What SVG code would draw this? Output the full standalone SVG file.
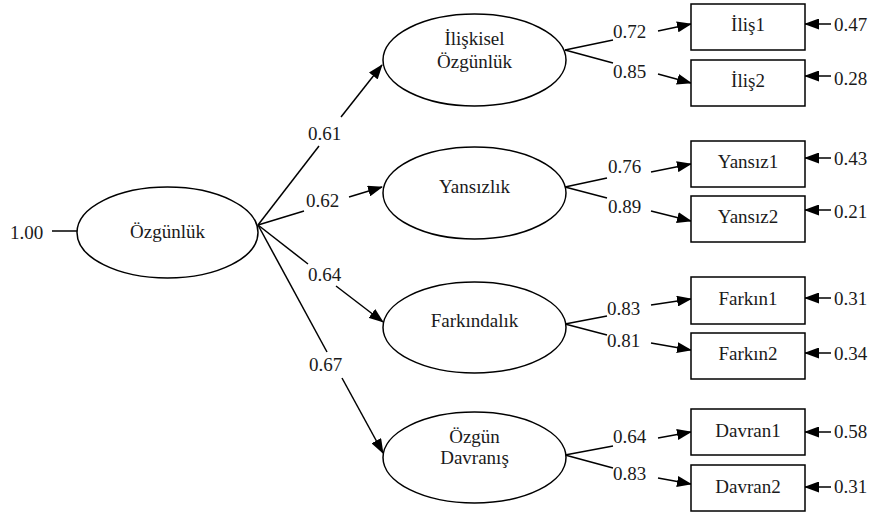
<svg xmlns="http://www.w3.org/2000/svg" width="869" height="516" viewBox="0 0 869 516" font-family="Liberation Serif, Times New Roman, serif" font-size="19">
<style>
text{fill:#1a1a1a}
.c{text-anchor:middle}
.n{fill:#fff;stroke:#000;stroke-width:1.5}
.l{stroke:#000;stroke-width:1.5;fill:none}
.a{stroke:#000;stroke-width:1.5;fill:none;marker-end:url(#ah)}
</style>
<defs>
<marker id="ah" markerWidth="15" markerHeight="11" refX="14" refY="5.5" orient="auto" markerUnits="userSpaceOnUse"><path d="M0,0 L15,5.5 L0,11 z" fill="#000"/></marker>
</defs>
<rect width="869" height="516" fill="#fff"/>
<g id="connectors">
<line class="l" x1="52" y1="231" x2="77" y2="231"/>
<text x="10" y="239">1.00</text>
<line class="l" x1="258" y1="225" x2="319" y2="146"/><line class="a" x1="341" y1="117" x2="382" y2="65"/><text x="308" y="140">0.61</text>
<line class="l" x1="258" y1="225" x2="304" y2="211"/><line class="a" x1="349" y1="197" x2="382" y2="187"/><text x="306" y="207">0.62</text>
<line class="l" x1="258" y1="225" x2="308" y2="264"/><line class="a" x1="336" y1="286" x2="383" y2="322"/><text x="308" y="281">0.64</text>
<line class="l" x1="258" y1="225" x2="327" y2="352"/><line class="a" x1="342" y1="378" x2="383" y2="453"/><text x="309" y="371">0.67</text>
<line class="l" x1="565" y1="50" x2="613" y2="40"/><line class="a" x1="658" y1="31" x2="691" y2="24"/><text x="613" y="38">0.72</text>
<line class="l" x1="565" y1="50" x2="613" y2="63"/><line class="a" x1="658" y1="74" x2="691" y2="83"/><text x="613" y="78">0.85</text>
<line class="l" x1="565" y1="187" x2="607" y2="178"/><line class="a" x1="651" y1="172" x2="691" y2="164"/><text x="608" y="173">0.76</text>
<line class="l" x1="565" y1="187" x2="607" y2="198"/><line class="a" x1="651" y1="211" x2="691" y2="221"/><text x="608" y="213">0.89</text>
<line class="l" x1="565" y1="324" x2="607" y2="316"/><line class="a" x1="651" y1="305" x2="691" y2="299"/><text x="607" y="315">0.83</text>
<line class="l" x1="565" y1="324" x2="607" y2="335"/><line class="a" x1="651" y1="343" x2="691" y2="350"/><text x="607" y="347">0.81</text>
<line class="l" x1="565" y1="455" x2="613" y2="446"/><line class="a" x1="658" y1="438" x2="691" y2="432"/><text x="613" y="443">0.64</text>
<line class="l" x1="565" y1="455" x2="613" y2="468"/><line class="a" x1="658" y1="478" x2="691" y2="484"/><text x="613" y="480">0.83</text>
<line class="a" x1="831" y1="24" x2="805" y2="24"/><text x="834" y="31">0.47</text>
<line class="a" x1="831" y1="76" x2="805" y2="76"/><text x="834" y="85">0.28</text>
<line class="a" x1="831" y1="158" x2="805" y2="158"/><text x="834" y="165">0.43</text>
<line class="a" x1="831" y1="210" x2="805" y2="210"/><text x="834" y="218">0.21</text>
<line class="a" x1="831" y1="298" x2="805" y2="298"/><text x="834" y="305">0.31</text>
<line class="a" x1="831" y1="353" x2="805" y2="353"/><text x="834" y="360">0.34</text>
<line class="a" x1="831" y1="432" x2="805" y2="432"/><text x="834" y="438">0.58</text>
<line class="a" x1="831" y1="487" x2="805" y2="487"/><text x="834" y="493">0.31</text>
</g>
<g id="ozgunluk"><ellipse class="n" cx="167.5" cy="232.5" rx="90.5" ry="45.5"/><text class="c" x="167.5" y="238">Özgünlük</text></g>
<g id="iliskisel"><ellipse class="n" cx="474.5" cy="60" rx="91.5" ry="46"/><text class="c" x="474.5" y="45">İlişkisel</text><text class="c" x="474.5" y="68">Özgünlük</text></g>
<g id="yansizlik"><ellipse class="n" cx="474.5" cy="193" rx="91.5" ry="46"/><text class="c" x="474.5" y="193">Yansızlık</text></g>
<g id="farkindalik"><ellipse class="n" cx="474.5" cy="327.5" rx="91.5" ry="45.5"/><text class="c" x="474.5" y="327">Farkındalık</text></g>
<g id="ozgun-davranis"><ellipse class="n" cx="474.5" cy="457.5" rx="91.5" ry="45.5"/><text class="c" x="474.5" y="443">Özgün</text><text class="c" x="474.5" y="464">Davranış</text></g>
<g id="ilis1"><rect class="n" x="691" y="4" width="114" height="46"/><text class="c" x="748" y="31">İliş1</text></g>
<g id="ilis2"><rect class="n" x="691" y="60" width="114" height="46"/><text class="c" x="748" y="87">İliş2</text></g>
<g id="yansiz1"><rect class="n" x="691" y="141" width="114" height="46"/><text class="c" x="748" y="168">Yansız1</text></g>
<g id="yansiz2"><rect class="n" x="691" y="196" width="114" height="46"/><text class="c" x="748" y="223">Yansız2</text></g>
<g id="farkin1"><rect class="n" x="691" y="277" width="114" height="47"/><text class="c" x="748" y="305">Farkın1</text></g>
<g id="farkin2"><rect class="n" x="691" y="333" width="114" height="46"/><text class="c" x="748" y="360">Farkın2</text></g>
<g id="davran1"><rect class="n" x="691" y="409" width="114" height="46"/><text class="c" x="748" y="437">Davran1</text></g>
<g id="davran2"><rect class="n" x="691" y="465" width="114" height="46"/><text class="c" x="748" y="493">Davran2</text></g>
</svg>
